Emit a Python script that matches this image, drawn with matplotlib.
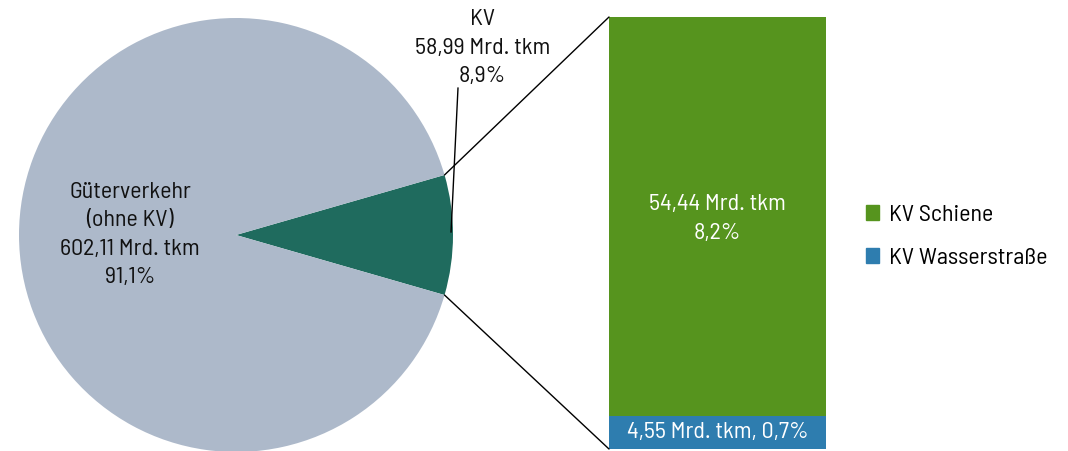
import matplotlib
matplotlib.use("Agg")
import matplotlib.pyplot as plt
from matplotlib.patches import ConnectionPatch, Patch
import numpy as np

plt.rcParams["font.family"] = ["Barlow Semi Condensed", "DejaVu Sans"]

# Güterverkehr split, Mrd. tkm
PIE_LABELS = ["KV", "Güterverkehr\n(ohne KV)"]
PIE_VALUES = [58.99, 602.11]
PIE_SHARES = ["8,9%", "91,1%"]
PIE_COLORS = ["#1f6b5e", "#adb9ca"]

# KV by carrier, Mrd. tkm
KV_LABELS = ["KV Wasserstraße", "KV Schiene"]
KV_VALUES = [4.55, 54.44]
KV_SHARES = ["0,7%", "8,2%"]
KV_COLORS = ["#2e7daf", "#56941e"]


def de(v):
    return f"{v:.2f}".replace(".", ",")


W, H = 1068, 451
fig = plt.figure(figsize=(W / 100, H / 100), dpi=100)

# pie: radius 217 px centred at (236, 216) px from the bottom-left
R = 217
pax = fig.add_axes([(236 - R) / W, (216 - R) / H, 2 * R / W, 2 * R / H])
half = 360 * PIE_VALUES[0] / sum(PIE_VALUES) / 2
wedges, _ = pax.pie(PIE_VALUES, colors=PIE_COLORS, startangle=-half,
                    counterclock=True, radius=1, center=(0, 0),
                    wedgeprops=dict(linewidth=0))
pax.set_xlim(-1, 1); pax.set_ylim(-1, 1)
pax.set_aspect("auto")
pax.axis("off")

fs = 17.3
ls = 1.47
pax.text(-0.488, 0.0, f"{PIE_LABELS[1]}\n{de(PIE_VALUES[1])} Mrd. tkm\n{PIE_SHARES[1]}",
         ha="center", va="center", fontsize=fs, linespacing=ls, color="#111111")

# KV callout with leader line
pax.plot([0.991, 1.023], [0.014, 0.677], color="black", lw=1.0, clip_on=False)
pax.text(1.135, 0.86, f"{PIE_LABELS[0]}\n{de(PIE_VALUES[0])} Mrd. tkm\n{PIE_SHARES[0]}",
         ha="center", va="center", fontsize=fs, linespacing=ls,
         color="#111111", clip_on=False)

# stacked bar for the KV breakdown
bax = fig.add_axes([609 / W, 2 / H, 217 / W, 432 / H])
bottom = 0
for val, col in zip(KV_VALUES, KV_COLORS):
    bax.bar(0, val, width=1, bottom=bottom, color=col, linewidth=0)
    bottom += val
bax.set_xlim(-0.5, 0.5); bax.set_ylim(0, sum(KV_VALUES))
bax.axis("off")

bax.text(0, KV_VALUES[0] + KV_VALUES[1] / 2 - 0.35,
         f"{de(KV_VALUES[1])} Mrd. tkm\n{KV_SHARES[1]}",
         ha="center", va="center", fontsize=fs, color="white", linespacing=ls)
bax.text(0, KV_VALUES[0] / 2,
         f"{de(KV_VALUES[0])} Mrd. tkm, {KV_SHARES[0]}",
         ha="center", va="center", fontsize=fs, color="white")

# connectors from wedge edges to bar corners
for ang, ycorner in [(half, sum(KV_VALUES)), (-half, 0)]:
    t = np.radians(ang)
    con = ConnectionPatch(xyA=(np.cos(t), np.sin(t)), coordsA=pax.transData,
                          xyB=(-0.5, ycorner), coordsB=bax.transData,
                          color="black", lw=1.0)
    fig.add_artist(con)

handles = [Patch(color=KV_COLORS[1], label=KV_LABELS[1]),
           Patch(color=KV_COLORS[0], label=KV_LABELS[0])]
fig.legend(handles=handles, loc="center left", bbox_to_anchor=(866 / W, 1 - 237 / H),
           frameon=False, fontsize=fs, handlelength=0.55, handleheight=0.55,
           handletextpad=0.4, labelspacing=0.9, borderpad=0, borderaxespad=0)

fig.savefig("out.png", dpi=100)
